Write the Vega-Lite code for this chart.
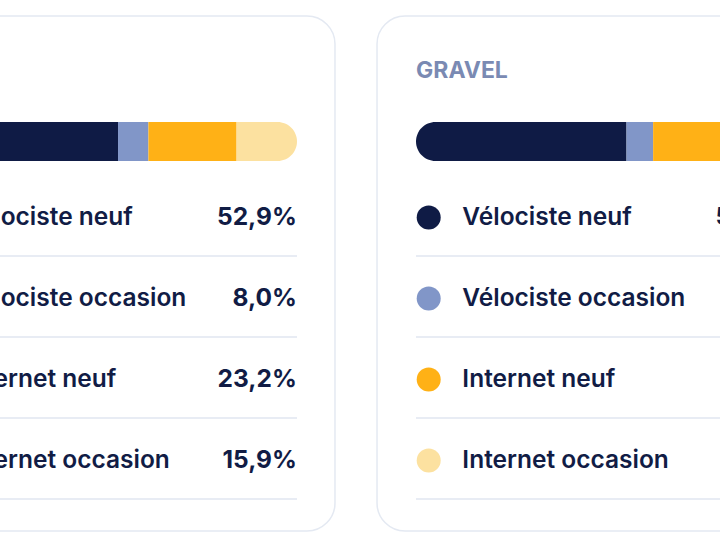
{
  "$schema": "https://vega.github.io/schema/vega-lite/v6.json",
  "padding": 0,
  "background": "#ffffff",
  "spacing": 39,
  "config": {
    "view": {"stroke": null},
    "font": "Inter",
    "locale": {"number": {"decimal": ",", "thousands": " ", "grouping": [3], "currency": ["", " €"]}}
  },
  "datasets": {
    "cartes": [{"carte": "ROUTE"}, {"carte": "GRAVEL"}],
    "parts": [
      {"carte": "ROUTE", "categorie": "Vélociste neuf", "rang": 1, "part": 0.529},
      {"carte": "ROUTE", "categorie": "Vélociste occasion", "rang": 2, "part": 0.080},
      {"carte": "ROUTE", "categorie": "Internet neuf", "rang": 3, "part": 0.232},
      {"carte": "ROUTE", "categorie": "Internet occasion", "rang": 4, "part": 0.159},
      {"carte": "GRAVEL", "categorie": "Vélociste neuf", "rang": 1, "part": 0.554},
      {"carte": "GRAVEL", "categorie": "Vélociste occasion", "rang": 2, "part": 0.070},
      {"carte": "GRAVEL", "categorie": "Internet neuf", "rang": 3, "part": 0.312},
      {"carte": "GRAVEL", "categorie": "Internet occasion", "rang": 4, "part": 0.064}
    ]
  },
  "hconcat": [
    {
      "width": 337,
      "height": 540,
      "layer": [
        {
          "layer": [
            {
              "data": {"name": "cartes"},
              "transform": [{"filter": "datum.carte === 'ROUTE'"}],
              "mark": {"type": "rect", "fill": "#ffffff", "stroke": "#e4e9f2", "strokeWidth": 1.5, "cornerRadius": 28, "clip": true},
              "encoding": {
                "x": {"datum": -0.1026, "type": "quantitative", "axis": null, "scale": {"domain": [0.2184, 1.1053], "nice": false, "zero": false}},
                "x2": {"datum": 1.10},
                "y": {"datum": 16, "type": "quantitative", "axis": null, "scale": {"domain": [0, 540], "reverse": true, "nice": false, "zero": false}},
                "y2": {"datum": 531}
              }
            },
            {
              "data": {"name": "cartes"},
              "transform": [{"filter": "datum.carte === 'ROUTE'"}],
              "mark": {"type": "text", "align": "left", "baseline": "alphabetic", "fontSize": 23, "fontWeight": 700, "color": "#7a8ab3", "clip": true},
              "encoding": {
                "x": {"datum": 0, "type": "quantitative"},
                "y": {"datum": 78, "type": "quantitative"},
                "text": {"field": "carte"}
              }
            },
            {
              "data": {"name": "parts"},
              "transform": [
                {"filter": "datum.carte === 'ROUTE'"},
                {"stack": "part", "groupby": ["carte"], "sort": [{"field": "rang", "order": "ascending"}], "as": ["debut", "fin"]}
              ],
              "mark": {
                "type": "rect", "clip": true,
                "cornerRadiusTopLeft": {"expr": "datum.rang === 1 ? 19.5 : 0"},
                "cornerRadiusBottomLeft": {"expr": "datum.rang === 1 ? 19.5 : 0"},
                "cornerRadiusTopRight": {"expr": "datum.rang === 4 ? 19.5 : 0"},
                "cornerRadiusBottomRight": {"expr": "datum.rang === 4 ? 19.5 : 0"}
              },
              "encoding": {
                "x": {"field": "debut", "type": "quantitative"},
                "x2": {"field": "fin"},
                "y": {"datum": 122, "type": "quantitative"},
                "y2": {"datum": 161},
                "color": {"field": "categorie", "type": "nominal", "legend": null,
                  "scale": {"domain": ["Vélociste neuf", "Vélociste occasion", "Internet neuf", "Internet occasion"], "range": ["#0f1b45", "#8196c8", "#ffb116", "#fce1a0"]}}
              }
            }
          ]
        },
        {
          "data": {"name": "parts"},
          "transform": [{"filter": "datum.carte === 'ROUTE'"}],
          "layer": [
            {
              "mark": {"type": "rule", "color": "#e8ecf4", "strokeWidth": 2, "clip": true},
              "encoding": {
                "x": {"datum": 0, "type": "quantitative"},
                "x2": {"datum": 1},
                "y": {"field": "categorie", "type": "nominal", "bandPosition": 0.975, "axis": null,
                  "sort": ["Vélociste neuf", "Vélociste occasion", "Internet neuf", "Internet occasion"],
                  "scale": {"type": "band", "paddingInner": 0, "paddingOuter": 0, "range": [177, 501]}}
              }
            },
            {
              "mark": {"type": "point", "shape": "circle", "filled": true, "opacity": 1, "size": 576, "clip": true},
              "encoding": {
                "x": {"datum": 0.0334, "type": "quantitative"},
                "y": {"field": "categorie", "type": "nominal", "sort": ["Vélociste neuf", "Vélociste occasion", "Internet neuf", "Internet occasion"]},
                "color": {"field": "categorie", "type": "nominal", "legend": null}
              }
            },
            {
              "mark": {"type": "text", "align": "left", "baseline": "middle", "fontSize": 24.5, "fontWeight": 600, "color": "#111c45", "clip": true},
              "encoding": {
                "x": {"datum": 0.122, "type": "quantitative"},
                "y": {"field": "categorie", "type": "nominal", "sort": ["Vélociste neuf", "Vélociste occasion", "Internet neuf", "Internet occasion"]},
                "text": {"field": "categorie"}
              }
            },
            {
              "mark": {"type": "text", "align": "right", "baseline": "middle", "fontSize": 24.5, "fontWeight": 700, "color": "#111c45", "clip": true},
              "encoding": {
                "x": {"datum": 0.9995, "type": "quantitative"},
                "y": {"field": "categorie", "type": "nominal", "sort": ["Vélociste neuf", "Vélociste occasion", "Internet neuf", "Internet occasion"]},
                "text": {"field": "part", "type": "quantitative", "format": ".1%"}
              }
            }
          ]
        }
      ],
      "resolve": {"scale": {"y": "independent"}}
    },
    {
      "width": 344,
      "height": 540,
      "layer": [
        {
          "layer": [
            {
              "data": {"name": "cartes"},
              "transform": [{"filter": "datum.carte === 'GRAVEL'"}],
              "mark": {"type": "rect", "fill": "#ffffff", "stroke": "#e4e9f2", "strokeWidth": 1.5, "cornerRadius": 28, "clip": true},
              "encoding": {
                "x": {"datum": -0.1026, "type": "quantitative", "axis": null, "scale": {"domain": [-0.1053, 0.80], "nice": false, "zero": false}},
                "x2": {"datum": 1.10},
                "y": {"datum": 16, "type": "quantitative", "axis": null, "scale": {"domain": [0, 540], "reverse": true, "nice": false, "zero": false}},
                "y2": {"datum": 531}
              }
            },
            {
              "data": {"name": "cartes"},
              "transform": [{"filter": "datum.carte === 'GRAVEL'"}],
              "mark": {"type": "text", "align": "left", "baseline": "alphabetic", "fontSize": 23, "fontWeight": 700, "color": "#7a8ab3", "clip": true},
              "encoding": {
                "x": {"datum": 0, "type": "quantitative"},
                "y": {"datum": 78, "type": "quantitative"},
                "text": {"field": "carte"}
              }
            },
            {
              "data": {"name": "parts"},
              "transform": [
                {"filter": "datum.carte === 'GRAVEL'"},
                {"stack": "part", "groupby": ["carte"], "sort": [{"field": "rang", "order": "ascending"}], "as": ["debut", "fin"]}
              ],
              "mark": {
                "type": "rect", "clip": true,
                "cornerRadiusTopLeft": {"expr": "datum.rang === 1 ? 19.5 : 0"},
                "cornerRadiusBottomLeft": {"expr": "datum.rang === 1 ? 19.5 : 0"},
                "cornerRadiusTopRight": {"expr": "datum.rang === 4 ? 19.5 : 0"},
                "cornerRadiusBottomRight": {"expr": "datum.rang === 4 ? 19.5 : 0"}
              },
              "encoding": {
                "x": {"field": "debut", "type": "quantitative"},
                "x2": {"field": "fin"},
                "y": {"datum": 122, "type": "quantitative"},
                "y2": {"datum": 161},
                "color": {"field": "categorie", "type": "nominal", "legend": null,
                  "scale": {"domain": ["Vélociste neuf", "Vélociste occasion", "Internet neuf", "Internet occasion"], "range": ["#0f1b45", "#8196c8", "#ffb116", "#fce1a0"]}}
              }
            }
          ]
        },
        {
          "data": {"name": "parts"},
          "transform": [{"filter": "datum.carte === 'GRAVEL'"}],
          "layer": [
            {
              "mark": {"type": "rule", "color": "#e8ecf4", "strokeWidth": 2, "clip": true},
              "encoding": {
                "x": {"datum": 0, "type": "quantitative"},
                "x2": {"datum": 1},
                "y": {"field": "categorie", "type": "nominal", "bandPosition": 0.975, "axis": null,
                  "sort": ["Vélociste neuf", "Vélociste occasion", "Internet neuf", "Internet occasion"],
                  "scale": {"type": "band", "paddingInner": 0, "paddingOuter": 0, "range": [177, 501]}}
              }
            },
            {
              "mark": {"type": "point", "shape": "circle", "filled": true, "opacity": 1, "size": 576, "clip": true},
              "encoding": {
                "x": {"datum": 0.0334, "type": "quantitative"},
                "y": {"field": "categorie", "type": "nominal", "sort": ["Vélociste neuf", "Vélociste occasion", "Internet neuf", "Internet occasion"]},
                "color": {"field": "categorie", "type": "nominal", "legend": null}
              }
            },
            {
              "mark": {"type": "text", "align": "left", "baseline": "middle", "fontSize": 24.5, "fontWeight": 600, "color": "#111c45", "clip": true},
              "encoding": {
                "x": {"datum": 0.122, "type": "quantitative"},
                "y": {"field": "categorie", "type": "nominal", "sort": ["Vélociste neuf", "Vélociste occasion", "Internet neuf", "Internet occasion"]},
                "text": {"field": "categorie"}
              }
            },
            {
              "mark": {"type": "text", "align": "right", "baseline": "middle", "fontSize": 24.5, "fontWeight": 700, "color": "#111c45", "clip": true},
              "encoding": {
                "x": {"datum": 0.9995, "type": "quantitative"},
                "y": {"field": "categorie", "type": "nominal", "sort": ["Vélociste neuf", "Vélociste occasion", "Internet neuf", "Internet occasion"]},
                "text": {"field": "part", "type": "quantitative", "format": ".1%"}
              }
            }
          ]
        }
      ],
      "resolve": {"scale": {"y": "independent"}}
    }
  ]
}
